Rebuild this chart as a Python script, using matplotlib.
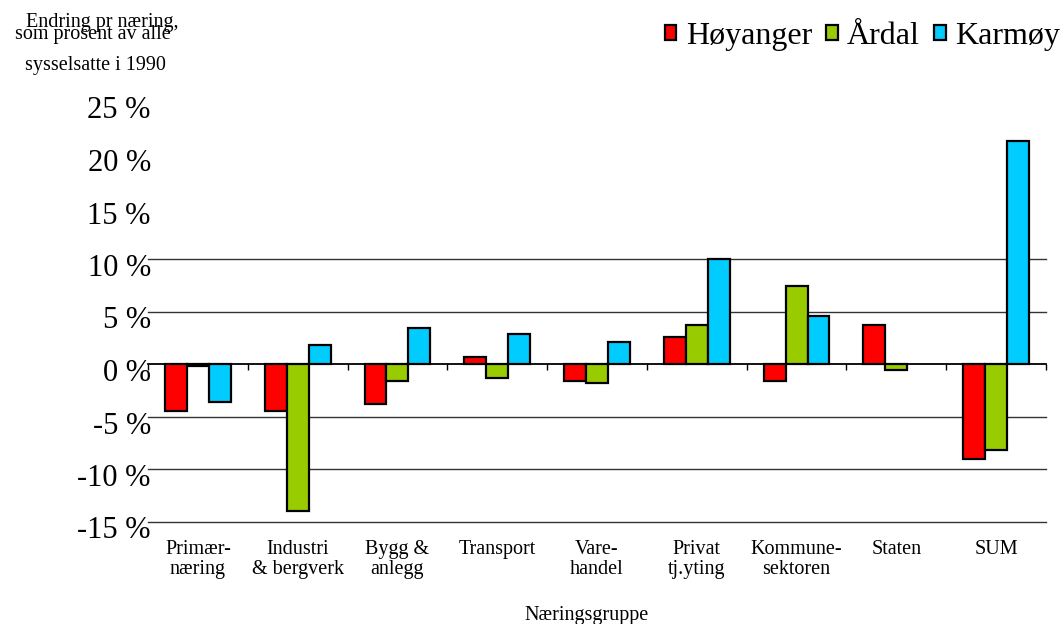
"""Endring i sysselsetting pr naering, Hoyanger / Ardal / Karmoy."""

import matplotlib

matplotlib.use("Agg")
import matplotlib.pyplot as plt
import matplotlib.transforms as mtransforms
import numpy as np

plt.rcParams["font.family"] = ["Liberation Serif", "DejaVu Serif"]

categories = [
    "Primær-\nnæring",
    "Industri\n& bergverk",
    "Bygg &\nanlegg",
    "Transport",
    "Vare-\nhandel",
    "Privat\ntj.yting",
    "Kommune-\nsektoren",
    "Staten",
    "SUM",
]
series_names = ["Høyanger", "Årdal", "Karmøy"]
hoyanger = [-4.5, -4.5, -3.85, 0.7, -1.6, 2.6, -1.6, 3.75, -9.05]
ardal = [-0.15, -14.0, -1.6, -1.35, -1.8, 3.75, 7.4, -0.55, -8.15]
karmoy = [-3.6, 1.85, 3.4, 2.85, 2.1, 10.0, 4.6, np.nan, 21.2]
colors = ["#FF0000", "#99CC00", "#00CCFF"]
yticks = [-15, -10, -5, 0, 5, 10, 15, 20, 25]

W, H = 1064, 624
fig = plt.figure(figsize=(W / 100, H / 100), dpi=100)
ax = fig.add_axes([148 / W, 1 - 521.5 / H, 898 / W, 420 / H])

x = np.arange(len(categories))
width = 0.22
for k, (name, vals, col) in enumerate(zip(series_names, [hoyanger, ardal, karmoy], colors)):
    ax.bar(x + (k - 1) * width, vals, width, color=col, edgecolor="black",
           linewidth=1.6, label=name, zorder=3)

ax.set_xlim(-0.5, len(categories) - 0.5)
ax.set_ylim(-15, 25)

# horizontal lines only up to 10 %
for v in yticks:
    if v != 0 and v <= 10:
        ax.axhline(v, color="#333333", linewidth=1.0, zorder=1, clip_on=False)

for side in ["left", "right", "top"]:
    ax.spines[side].set_visible(False)
ax.spines["bottom"].set_position(("data", 0))
ax.spines["bottom"].set_linewidth(1.3)
ax.set_xticks(np.arange(-0.5, len(categories)))
ax.tick_params(axis="x", direction="out", length=4, width=1, labelbottom=False)

ax.set_yticks(yticks)
ax.set_yticklabels([f"{v} %" for v in yticks], fontsize=22)
ax.tick_params(axis="y", length=0, pad=-2)
offset = mtransforms.ScaledTranslation(0, -6 / 100, fig.dpi_scale_trans)
for lab in ax.get_yticklabels():
    lab.set_transform(lab.get_transform() + offset)

blend = mtransforms.blended_transform_factory(ax.transData, ax.transAxes)
for i, cat in enumerate(categories):
    ax.text(i, -0.043, cat, transform=blend, ha="center", va="top",
            fontsize=14.5, linespacing=1.07)

fig.text(587 / W, 1 - 620 / H, "Næringsgruppe", ha="center", va="baseline", fontsize=14.5)

fig.text(102 / W, 1 - 27 / H, "Endring pr næring,", ha="center", va="baseline", fontsize=14.5)
fig.text(93 / W, 1 - 39 / H, "som prosent av alle", ha="center", va="baseline", fontsize=14.5)
fig.text(95 / W, 1 - 70 / H, "sysselsatte i 1990", ha="center", va="baseline", fontsize=14.5)

fig.legend(loc="upper right", bbox_to_anchor=(1060 / W, 1 - 22 / H), ncol=3,
           frameon=False, fontsize=23, handlelength=0.35, handleheight=0.35,
           handletextpad=0.3, columnspacing=0.45, borderpad=0, borderaxespad=0)

fig.savefig("out.png", dpi=100)
